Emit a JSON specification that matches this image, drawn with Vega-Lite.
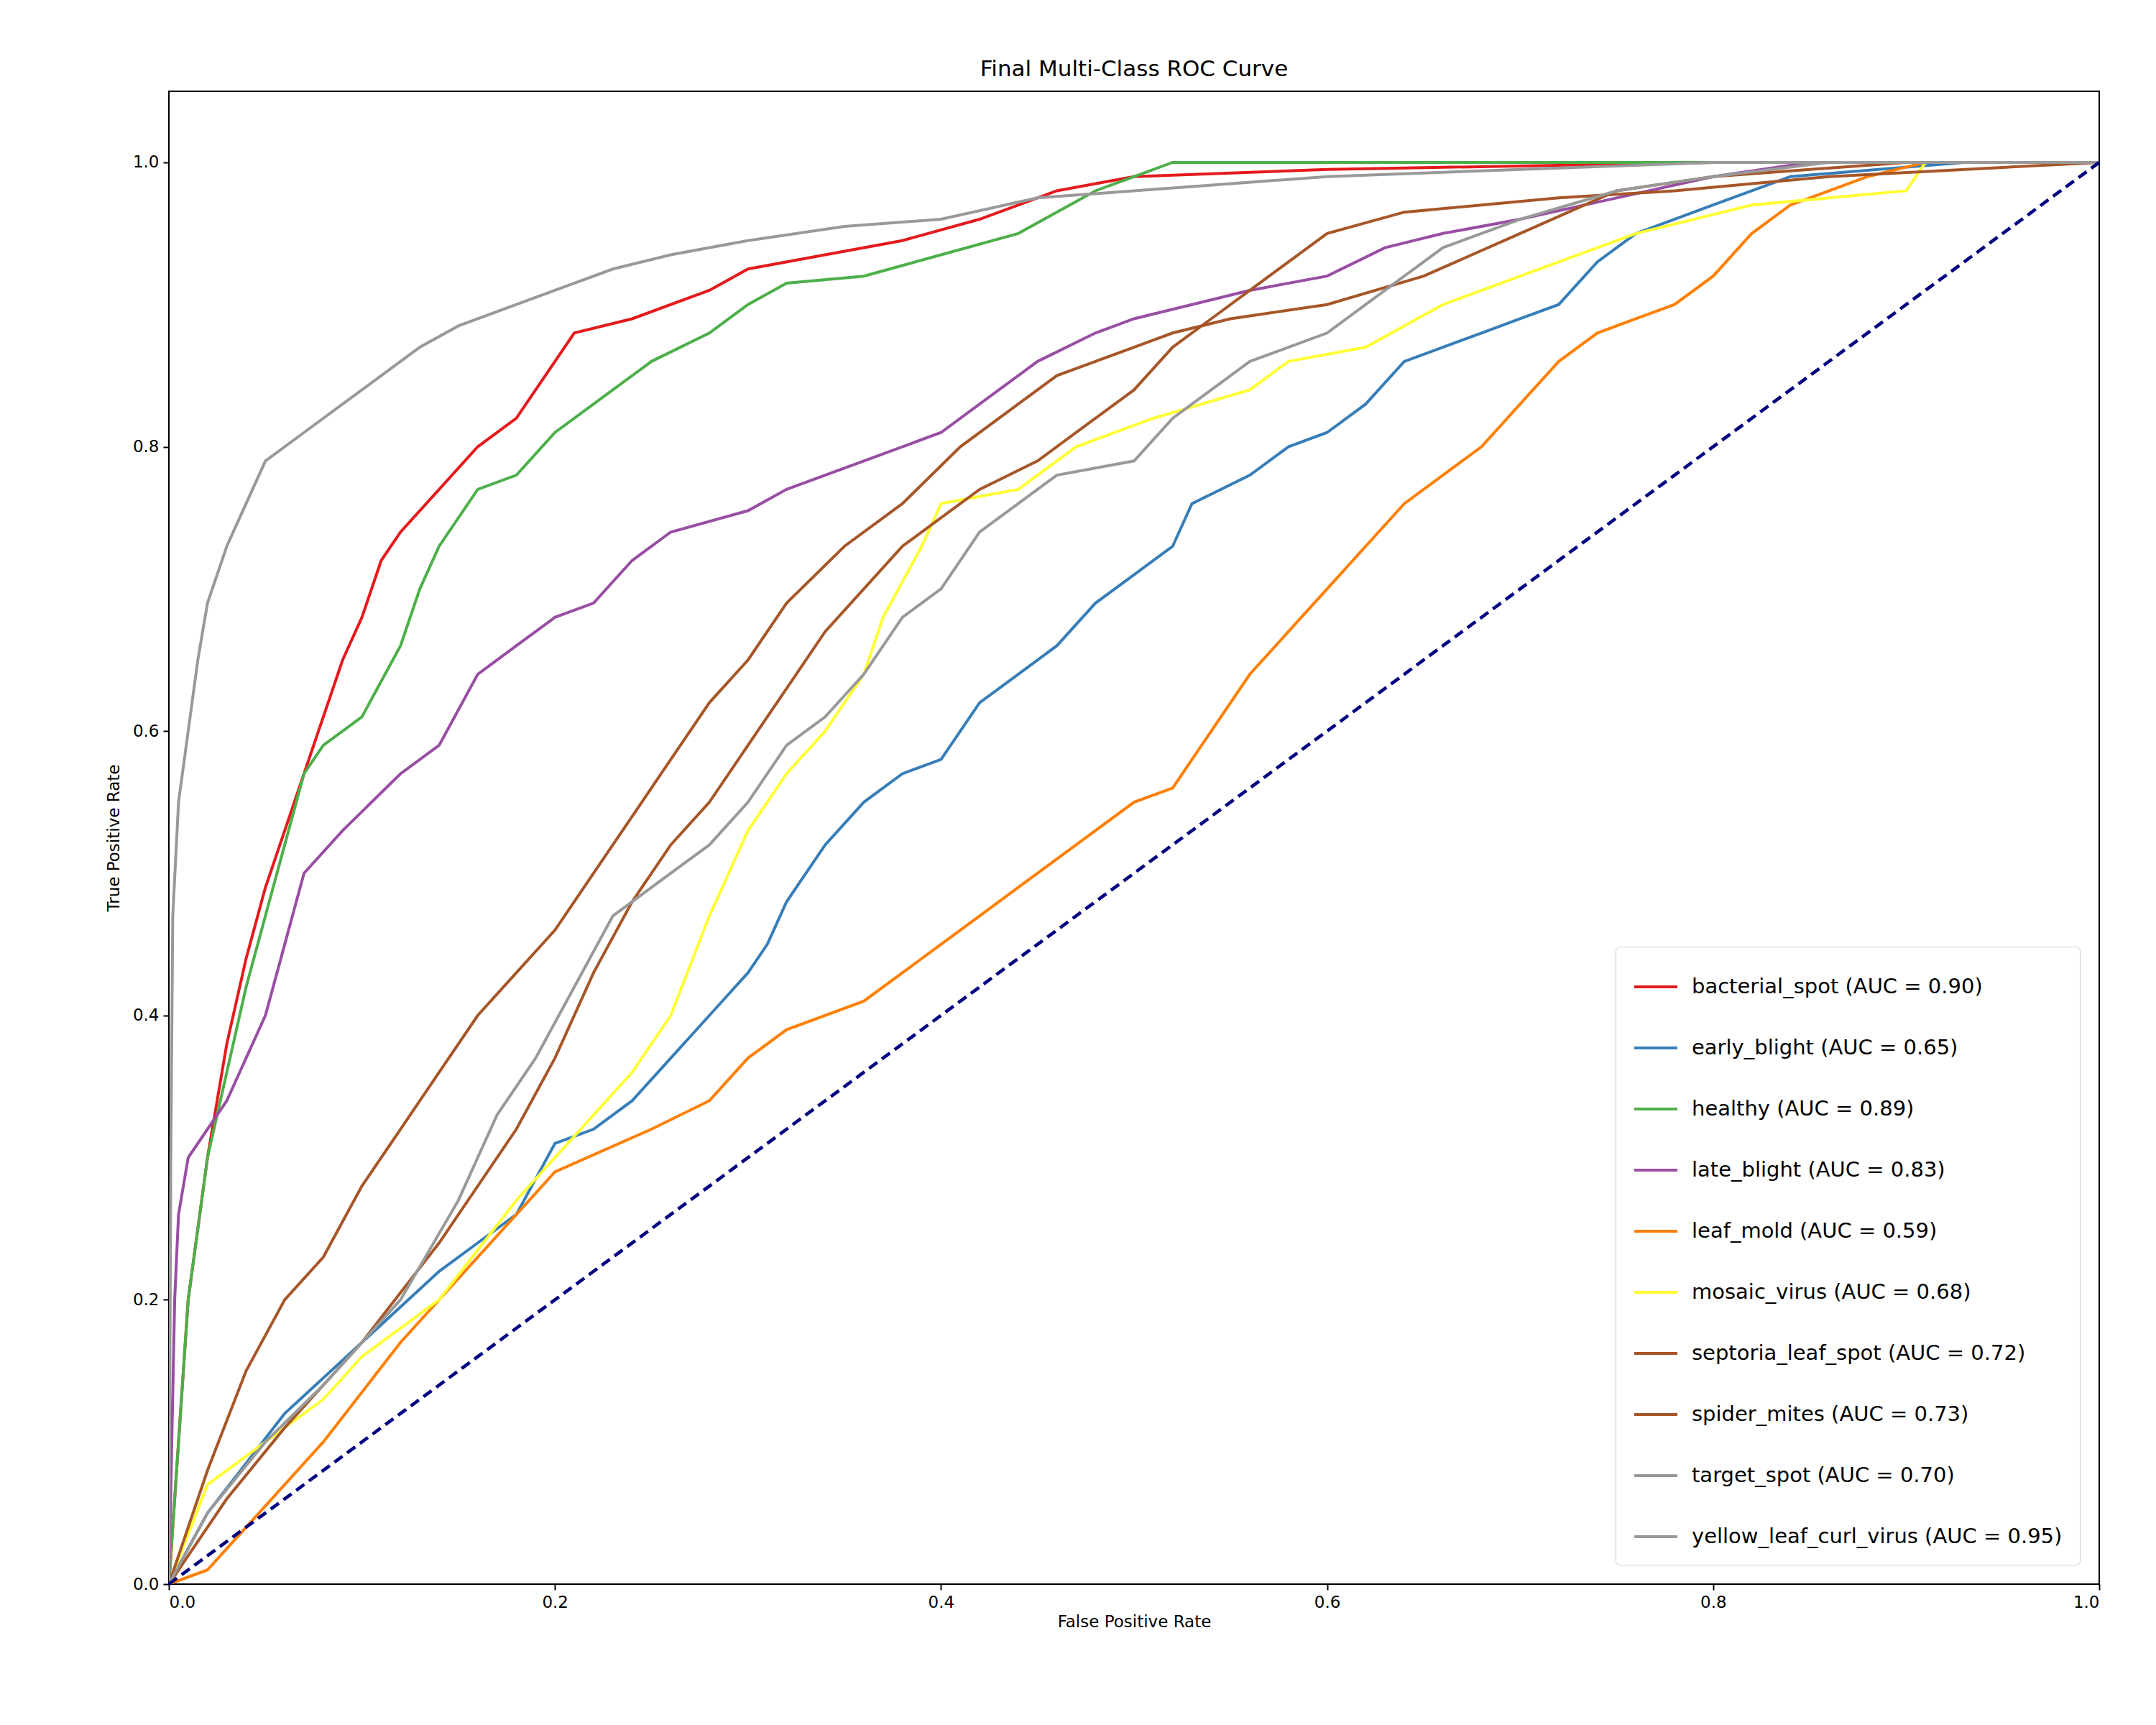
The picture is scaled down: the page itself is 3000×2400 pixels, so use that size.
{
  "$schema": "https://vega.github.io/schema/vega-lite/v6.json",
  "autosize": {"type": "none"},
  "padding": {"left": 235, "top": 127, "right": 79, "bottom": 196},
  "width": 2686,
  "height": 2077,
  "background": "white",
  "title": {"text": "Final Multi-Class ROC Curve", "fontSize": 31, "fontWeight": "normal", "font": "DejaVu Sans", "offset": 14},
  "config": {
    "font": "DejaVu Sans",
    "view": {"stroke": "black", "strokeWidth": 2},
    "axis": {"grid": false, "domain": false, "tickColor": "black", "tickWidth": 2, "tickSize": 8, "labelFontSize": 23, "titleFontSize": 23, "titleFontWeight": "normal", "labelColor": "black", "titleColor": "black", "labelPadding": 6}
  },
  "datasets": {
    "roc": [
      {"c":"bacterial_spot (AUC = 0.90)","x":0,"y":0},{"c":"bacterial_spot (AUC = 0.90)","x":0.005,"y":0.1},{"c":"bacterial_spot (AUC = 0.90)","x":0.01,"y":0.2},{"c":"bacterial_spot (AUC = 0.90)","x":0.02,"y":0.3},{"c":"bacterial_spot (AUC = 0.90)","x":0.03,"y":0.38},{"c":"bacterial_spot (AUC = 0.90)","x":0.04,"y":0.44},{"c":"bacterial_spot (AUC = 0.90)","x":0.05,"y":0.49},{"c":"bacterial_spot (AUC = 0.90)","x":0.06,"y":0.53},{"c":"bacterial_spot (AUC = 0.90)","x":0.07,"y":0.57},{"c":"bacterial_spot (AUC = 0.90)","x":0.08,"y":0.61},{"c":"bacterial_spot (AUC = 0.90)","x":0.09,"y":0.65},{"c":"bacterial_spot (AUC = 0.90)","x":0.1,"y":0.68},{"c":"bacterial_spot (AUC = 0.90)","x":0.11,"y":0.72},{"c":"bacterial_spot (AUC = 0.90)","x":0.12,"y":0.74},{"c":"bacterial_spot (AUC = 0.90)","x":0.14,"y":0.77},{"c":"bacterial_spot (AUC = 0.90)","x":0.16,"y":0.8},{"c":"bacterial_spot (AUC = 0.90)","x":0.18,"y":0.82},{"c":"bacterial_spot (AUC = 0.90)","x":0.2,"y":0.86},{"c":"bacterial_spot (AUC = 0.90)","x":0.21,"y":0.88},{"c":"bacterial_spot (AUC = 0.90)","x":0.24,"y":0.89},{"c":"bacterial_spot (AUC = 0.90)","x":0.28,"y":0.91},{"c":"bacterial_spot (AUC = 0.90)","x":0.3,"y":0.925},{"c":"bacterial_spot (AUC = 0.90)","x":0.34,"y":0.935},{"c":"bacterial_spot (AUC = 0.90)","x":0.38,"y":0.945},{"c":"bacterial_spot (AUC = 0.90)","x":0.42,"y":0.96},{"c":"bacterial_spot (AUC = 0.90)","x":0.46,"y":0.98},{"c":"bacterial_spot (AUC = 0.90)","x":0.5,"y":0.99},{"c":"bacterial_spot (AUC = 0.90)","x":0.6,"y":0.995},{"c":"bacterial_spot (AUC = 0.90)","x":0.8,"y":1.0},{"c":"bacterial_spot (AUC = 0.90)","x":1,"y":1},

      {"c":"early_blight (AUC = 0.65)","x":0,"y":0},{"c":"early_blight (AUC = 0.65)","x":0.02,"y":0.05},{"c":"early_blight (AUC = 0.65)","x":0.06,"y":0.12},{"c":"early_blight (AUC = 0.65)","x":0.1,"y":0.17},{"c":"early_blight (AUC = 0.65)","x":0.14,"y":0.22},{"c":"early_blight (AUC = 0.65)","x":0.16,"y":0.24},{"c":"early_blight (AUC = 0.65)","x":0.18,"y":0.26},{"c":"early_blight (AUC = 0.65)","x":0.2,"y":0.31},{"c":"early_blight (AUC = 0.65)","x":0.22,"y":0.32},{"c":"early_blight (AUC = 0.65)","x":0.24,"y":0.34},{"c":"early_blight (AUC = 0.65)","x":0.26,"y":0.37},{"c":"early_blight (AUC = 0.65)","x":0.28,"y":0.4},{"c":"early_blight (AUC = 0.65)","x":0.3,"y":0.43},{"c":"early_blight (AUC = 0.65)","x":0.31,"y":0.45},{"c":"early_blight (AUC = 0.65)","x":0.32,"y":0.48},{"c":"early_blight (AUC = 0.65)","x":0.34,"y":0.52},{"c":"early_blight (AUC = 0.65)","x":0.36,"y":0.55},{"c":"early_blight (AUC = 0.65)","x":0.38,"y":0.57},{"c":"early_blight (AUC = 0.65)","x":0.4,"y":0.58},{"c":"early_blight (AUC = 0.65)","x":0.42,"y":0.62},{"c":"early_blight (AUC = 0.65)","x":0.44,"y":0.64},{"c":"early_blight (AUC = 0.65)","x":0.46,"y":0.66},{"c":"early_blight (AUC = 0.65)","x":0.48,"y":0.69},{"c":"early_blight (AUC = 0.65)","x":0.5,"y":0.71},{"c":"early_blight (AUC = 0.65)","x":0.52,"y":0.73},{"c":"early_blight (AUC = 0.65)","x":0.53,"y":0.76},{"c":"early_blight (AUC = 0.65)","x":0.56,"y":0.78},{"c":"early_blight (AUC = 0.65)","x":0.58,"y":0.8},{"c":"early_blight (AUC = 0.65)","x":0.6,"y":0.81},{"c":"early_blight (AUC = 0.65)","x":0.62,"y":0.83},{"c":"early_blight (AUC = 0.65)","x":0.64,"y":0.86},{"c":"early_blight (AUC = 0.65)","x":0.66,"y":0.87},{"c":"early_blight (AUC = 0.65)","x":0.68,"y":0.88},{"c":"early_blight (AUC = 0.65)","x":0.7,"y":0.89},{"c":"early_blight (AUC = 0.65)","x":0.72,"y":0.9},{"c":"early_blight (AUC = 0.65)","x":0.74,"y":0.93},{"c":"early_blight (AUC = 0.65)","x":0.76,"y":0.95},{"c":"early_blight (AUC = 0.65)","x":0.8,"y":0.97},{"c":"early_blight (AUC = 0.65)","x":0.84,"y":0.99},{"c":"early_blight (AUC = 0.65)","x":0.93,"y":1.0},{"c":"early_blight (AUC = 0.65)","x":1,"y":1},

      {"c":"healthy (AUC = 0.89)","x":0,"y":0},{"c":"healthy (AUC = 0.89)","x":0.01,"y":0.2},{"c":"healthy (AUC = 0.89)","x":0.02,"y":0.3},{"c":"healthy (AUC = 0.89)","x":0.04,"y":0.42},{"c":"healthy (AUC = 0.89)","x":0.06,"y":0.52},{"c":"healthy (AUC = 0.89)","x":0.07,"y":0.57},{"c":"healthy (AUC = 0.89)","x":0.08,"y":0.59},{"c":"healthy (AUC = 0.89)","x":0.1,"y":0.61},{"c":"healthy (AUC = 0.89)","x":0.12,"y":0.66},{"c":"healthy (AUC = 0.89)","x":0.13,"y":0.7},{"c":"healthy (AUC = 0.89)","x":0.14,"y":0.73},{"c":"healthy (AUC = 0.89)","x":0.16,"y":0.77},{"c":"healthy (AUC = 0.89)","x":0.18,"y":0.78},{"c":"healthy (AUC = 0.89)","x":0.2,"y":0.81},{"c":"healthy (AUC = 0.89)","x":0.22,"y":0.83},{"c":"healthy (AUC = 0.89)","x":0.25,"y":0.86},{"c":"healthy (AUC = 0.89)","x":0.28,"y":0.88},{"c":"healthy (AUC = 0.89)","x":0.3,"y":0.9},{"c":"healthy (AUC = 0.89)","x":0.32,"y":0.915},{"c":"healthy (AUC = 0.89)","x":0.36,"y":0.92},{"c":"healthy (AUC = 0.89)","x":0.4,"y":0.935},{"c":"healthy (AUC = 0.89)","x":0.44,"y":0.95},{"c":"healthy (AUC = 0.89)","x":0.48,"y":0.98},{"c":"healthy (AUC = 0.89)","x":0.52,"y":1.0},{"c":"healthy (AUC = 0.89)","x":1,"y":1},

      {"c":"late_blight (AUC = 0.83)","x":0,"y":0},{"c":"late_blight (AUC = 0.83)","x":0.003,"y":0.2},{"c":"late_blight (AUC = 0.83)","x":0.005,"y":0.26},{"c":"late_blight (AUC = 0.83)","x":0.01,"y":0.3},{"c":"late_blight (AUC = 0.83)","x":0.03,"y":0.34},{"c":"late_blight (AUC = 0.83)","x":0.05,"y":0.4},{"c":"late_blight (AUC = 0.83)","x":0.06,"y":0.45},{"c":"late_blight (AUC = 0.83)","x":0.07,"y":0.5},{"c":"late_blight (AUC = 0.83)","x":0.09,"y":0.53},{"c":"late_blight (AUC = 0.83)","x":0.12,"y":0.57},{"c":"late_blight (AUC = 0.83)","x":0.14,"y":0.59},{"c":"late_blight (AUC = 0.83)","x":0.16,"y":0.64},{"c":"late_blight (AUC = 0.83)","x":0.18,"y":0.66},{"c":"late_blight (AUC = 0.83)","x":0.2,"y":0.68},{"c":"late_blight (AUC = 0.83)","x":0.22,"y":0.69},{"c":"late_blight (AUC = 0.83)","x":0.24,"y":0.72},{"c":"late_blight (AUC = 0.83)","x":0.26,"y":0.74},{"c":"late_blight (AUC = 0.83)","x":0.3,"y":0.755},{"c":"late_blight (AUC = 0.83)","x":0.32,"y":0.77},{"c":"late_blight (AUC = 0.83)","x":0.36,"y":0.79},{"c":"late_blight (AUC = 0.83)","x":0.4,"y":0.81},{"c":"late_blight (AUC = 0.83)","x":0.42,"y":0.83},{"c":"late_blight (AUC = 0.83)","x":0.45,"y":0.86},{"c":"late_blight (AUC = 0.83)","x":0.48,"y":0.88},{"c":"late_blight (AUC = 0.83)","x":0.5,"y":0.89},{"c":"late_blight (AUC = 0.83)","x":0.53,"y":0.9},{"c":"late_blight (AUC = 0.83)","x":0.56,"y":0.91},{"c":"late_blight (AUC = 0.83)","x":0.6,"y":0.92},{"c":"late_blight (AUC = 0.83)","x":0.63,"y":0.94},{"c":"late_blight (AUC = 0.83)","x":0.66,"y":0.95},{"c":"late_blight (AUC = 0.83)","x":0.7,"y":0.96},{"c":"late_blight (AUC = 0.83)","x":0.75,"y":0.975},{"c":"late_blight (AUC = 0.83)","x":0.8,"y":0.99},{"c":"late_blight (AUC = 0.83)","x":0.85,"y":1.0},{"c":"late_blight (AUC = 0.83)","x":1,"y":1},

      {"c":"leaf_mold (AUC = 0.59)","x":0,"y":0},{"c":"leaf_mold (AUC = 0.59)","x":0.02,"y":0.01},{"c":"leaf_mold (AUC = 0.59)","x":0.04,"y":0.04},{"c":"leaf_mold (AUC = 0.59)","x":0.08,"y":0.1},{"c":"leaf_mold (AUC = 0.59)","x":0.12,"y":0.17},{"c":"leaf_mold (AUC = 0.59)","x":0.16,"y":0.23},{"c":"leaf_mold (AUC = 0.59)","x":0.2,"y":0.29},{"c":"leaf_mold (AUC = 0.59)","x":0.25,"y":0.32},{"c":"leaf_mold (AUC = 0.59)","x":0.28,"y":0.34},{"c":"leaf_mold (AUC = 0.59)","x":0.3,"y":0.37},{"c":"leaf_mold (AUC = 0.59)","x":0.32,"y":0.39},{"c":"leaf_mold (AUC = 0.59)","x":0.36,"y":0.41},{"c":"leaf_mold (AUC = 0.59)","x":0.38,"y":0.43},{"c":"leaf_mold (AUC = 0.59)","x":0.4,"y":0.45},{"c":"leaf_mold (AUC = 0.59)","x":0.42,"y":0.47},{"c":"leaf_mold (AUC = 0.59)","x":0.44,"y":0.49},{"c":"leaf_mold (AUC = 0.59)","x":0.46,"y":0.51},{"c":"leaf_mold (AUC = 0.59)","x":0.48,"y":0.53},{"c":"leaf_mold (AUC = 0.59)","x":0.5,"y":0.55},{"c":"leaf_mold (AUC = 0.59)","x":0.52,"y":0.56},{"c":"leaf_mold (AUC = 0.59)","x":0.54,"y":0.6},{"c":"leaf_mold (AUC = 0.59)","x":0.56,"y":0.64},{"c":"leaf_mold (AUC = 0.59)","x":0.58,"y":0.67},{"c":"leaf_mold (AUC = 0.59)","x":0.6,"y":0.7},{"c":"leaf_mold (AUC = 0.59)","x":0.62,"y":0.73},{"c":"leaf_mold (AUC = 0.59)","x":0.64,"y":0.76},{"c":"leaf_mold (AUC = 0.59)","x":0.66,"y":0.78},{"c":"leaf_mold (AUC = 0.59)","x":0.68,"y":0.8},{"c":"leaf_mold (AUC = 0.59)","x":0.7,"y":0.83},{"c":"leaf_mold (AUC = 0.59)","x":0.72,"y":0.86},{"c":"leaf_mold (AUC = 0.59)","x":0.74,"y":0.88},{"c":"leaf_mold (AUC = 0.59)","x":0.76,"y":0.89},{"c":"leaf_mold (AUC = 0.59)","x":0.78,"y":0.9},{"c":"leaf_mold (AUC = 0.59)","x":0.8,"y":0.92},{"c":"leaf_mold (AUC = 0.59)","x":0.82,"y":0.95},{"c":"leaf_mold (AUC = 0.59)","x":0.84,"y":0.97},{"c":"leaf_mold (AUC = 0.59)","x":0.88,"y":0.99},{"c":"leaf_mold (AUC = 0.59)","x":0.91,"y":1.0},{"c":"leaf_mold (AUC = 0.59)","x":1,"y":1},

      {"c":"mosaic_virus (AUC = 0.68)","x":0,"y":0},{"c":"mosaic_virus (AUC = 0.68)","x":0.02,"y":0.07},{"c":"mosaic_virus (AUC = 0.68)","x":0.05,"y":0.1},{"c":"mosaic_virus (AUC = 0.68)","x":0.08,"y":0.13},{"c":"mosaic_virus (AUC = 0.68)","x":0.1,"y":0.16},{"c":"mosaic_virus (AUC = 0.68)","x":0.14,"y":0.2},{"c":"mosaic_virus (AUC = 0.68)","x":0.18,"y":0.27},{"c":"mosaic_virus (AUC = 0.68)","x":0.2,"y":0.3},{"c":"mosaic_virus (AUC = 0.68)","x":0.22,"y":0.33},{"c":"mosaic_virus (AUC = 0.68)","x":0.24,"y":0.36},{"c":"mosaic_virus (AUC = 0.68)","x":0.26,"y":0.4},{"c":"mosaic_virus (AUC = 0.68)","x":0.28,"y":0.47},{"c":"mosaic_virus (AUC = 0.68)","x":0.3,"y":0.53},{"c":"mosaic_virus (AUC = 0.68)","x":0.32,"y":0.57},{"c":"mosaic_virus (AUC = 0.68)","x":0.34,"y":0.6},{"c":"mosaic_virus (AUC = 0.68)","x":0.36,"y":0.64},{"c":"mosaic_virus (AUC = 0.68)","x":0.37,"y":0.68},{"c":"mosaic_virus (AUC = 0.68)","x":0.39,"y":0.73},{"c":"mosaic_virus (AUC = 0.68)","x":0.4,"y":0.76},{"c":"mosaic_virus (AUC = 0.68)","x":0.44,"y":0.77},{"c":"mosaic_virus (AUC = 0.68)","x":0.47,"y":0.8},{"c":"mosaic_virus (AUC = 0.68)","x":0.51,"y":0.82},{"c":"mosaic_virus (AUC = 0.68)","x":0.56,"y":0.84},{"c":"mosaic_virus (AUC = 0.68)","x":0.58,"y":0.86},{"c":"mosaic_virus (AUC = 0.68)","x":0.62,"y":0.87},{"c":"mosaic_virus (AUC = 0.68)","x":0.66,"y":0.9},{"c":"mosaic_virus (AUC = 0.68)","x":0.72,"y":0.93},{"c":"mosaic_virus (AUC = 0.68)","x":0.76,"y":0.95},{"c":"mosaic_virus (AUC = 0.68)","x":0.82,"y":0.97},{"c":"mosaic_virus (AUC = 0.68)","x":0.9,"y":0.98},{"c":"mosaic_virus (AUC = 0.68)","x":0.91,"y":1.0},{"c":"mosaic_virus (AUC = 0.68)","x":1,"y":1},

      {"c":"septoria_leaf_spot (AUC = 0.72)","x":0,"y":0},{"c":"septoria_leaf_spot (AUC = 0.72)","x":0.02,"y":0.08},{"c":"septoria_leaf_spot (AUC = 0.72)","x":0.04,"y":0.15},{"c":"septoria_leaf_spot (AUC = 0.72)","x":0.06,"y":0.2},{"c":"septoria_leaf_spot (AUC = 0.72)","x":0.08,"y":0.23},{"c":"septoria_leaf_spot (AUC = 0.72)","x":0.1,"y":0.28},{"c":"septoria_leaf_spot (AUC = 0.72)","x":0.12,"y":0.32},{"c":"septoria_leaf_spot (AUC = 0.72)","x":0.14,"y":0.36},{"c":"septoria_leaf_spot (AUC = 0.72)","x":0.16,"y":0.4},{"c":"septoria_leaf_spot (AUC = 0.72)","x":0.18,"y":0.43},{"c":"septoria_leaf_spot (AUC = 0.72)","x":0.2,"y":0.46},{"c":"septoria_leaf_spot (AUC = 0.72)","x":0.22,"y":0.5},{"c":"septoria_leaf_spot (AUC = 0.72)","x":0.24,"y":0.54},{"c":"septoria_leaf_spot (AUC = 0.72)","x":0.26,"y":0.58},{"c":"septoria_leaf_spot (AUC = 0.72)","x":0.28,"y":0.62},{"c":"septoria_leaf_spot (AUC = 0.72)","x":0.3,"y":0.65},{"c":"septoria_leaf_spot (AUC = 0.72)","x":0.32,"y":0.69},{"c":"septoria_leaf_spot (AUC = 0.72)","x":0.35,"y":0.73},{"c":"septoria_leaf_spot (AUC = 0.72)","x":0.38,"y":0.76},{"c":"septoria_leaf_spot (AUC = 0.72)","x":0.41,"y":0.8},{"c":"septoria_leaf_spot (AUC = 0.72)","x":0.44,"y":0.83},{"c":"septoria_leaf_spot (AUC = 0.72)","x":0.46,"y":0.85},{"c":"septoria_leaf_spot (AUC = 0.72)","x":0.48,"y":0.86},{"c":"septoria_leaf_spot (AUC = 0.72)","x":0.5,"y":0.87},{"c":"septoria_leaf_spot (AUC = 0.72)","x":0.52,"y":0.88},{"c":"septoria_leaf_spot (AUC = 0.72)","x":0.55,"y":0.89},{"c":"septoria_leaf_spot (AUC = 0.72)","x":0.6,"y":0.9},{"c":"septoria_leaf_spot (AUC = 0.72)","x":0.65,"y":0.92},{"c":"septoria_leaf_spot (AUC = 0.72)","x":0.7,"y":0.95},{"c":"septoria_leaf_spot (AUC = 0.72)","x":0.75,"y":0.98},{"c":"septoria_leaf_spot (AUC = 0.72)","x":0.8,"y":0.99},{"c":"septoria_leaf_spot (AUC = 0.72)","x":0.9,"y":1.0},{"c":"septoria_leaf_spot (AUC = 0.72)","x":1,"y":1},

      {"c":"spider_mites (AUC = 0.73)","x":0,"y":0},{"c":"spider_mites (AUC = 0.73)","x":0.03,"y":0.06},{"c":"spider_mites (AUC = 0.73)","x":0.06,"y":0.11},{"c":"spider_mites (AUC = 0.73)","x":0.1,"y":0.17},{"c":"spider_mites (AUC = 0.73)","x":0.14,"y":0.24},{"c":"spider_mites (AUC = 0.73)","x":0.18,"y":0.32},{"c":"spider_mites (AUC = 0.73)","x":0.2,"y":0.37},{"c":"spider_mites (AUC = 0.73)","x":0.22,"y":0.43},{"c":"spider_mites (AUC = 0.73)","x":0.24,"y":0.48},{"c":"spider_mites (AUC = 0.73)","x":0.26,"y":0.52},{"c":"spider_mites (AUC = 0.73)","x":0.28,"y":0.55},{"c":"spider_mites (AUC = 0.73)","x":0.3,"y":0.59},{"c":"spider_mites (AUC = 0.73)","x":0.32,"y":0.63},{"c":"spider_mites (AUC = 0.73)","x":0.34,"y":0.67},{"c":"spider_mites (AUC = 0.73)","x":0.36,"y":0.7},{"c":"spider_mites (AUC = 0.73)","x":0.38,"y":0.73},{"c":"spider_mites (AUC = 0.73)","x":0.4,"y":0.75},{"c":"spider_mites (AUC = 0.73)","x":0.42,"y":0.77},{"c":"spider_mites (AUC = 0.73)","x":0.45,"y":0.79},{"c":"spider_mites (AUC = 0.73)","x":0.48,"y":0.82},{"c":"spider_mites (AUC = 0.73)","x":0.5,"y":0.84},{"c":"spider_mites (AUC = 0.73)","x":0.52,"y":0.87},{"c":"spider_mites (AUC = 0.73)","x":0.54,"y":0.89},{"c":"spider_mites (AUC = 0.73)","x":0.56,"y":0.91},{"c":"spider_mites (AUC = 0.73)","x":0.58,"y":0.93},{"c":"spider_mites (AUC = 0.73)","x":0.6,"y":0.95},{"c":"spider_mites (AUC = 0.73)","x":0.64,"y":0.965},{"c":"spider_mites (AUC = 0.73)","x":0.68,"y":0.97},{"c":"spider_mites (AUC = 0.73)","x":0.72,"y":0.975},{"c":"spider_mites (AUC = 0.73)","x":0.78,"y":0.98},{"c":"spider_mites (AUC = 0.73)","x":0.86,"y":0.99},{"c":"spider_mites (AUC = 0.73)","x":1,"y":1},

      {"c":"target_spot (AUC = 0.70)","x":0,"y":0},{"c":"target_spot (AUC = 0.70)","x":0.02,"y":0.05},{"c":"target_spot (AUC = 0.70)","x":0.05,"y":0.1},{"c":"target_spot (AUC = 0.70)","x":0.08,"y":0.14},{"c":"target_spot (AUC = 0.70)","x":0.12,"y":0.2},{"c":"target_spot (AUC = 0.70)","x":0.15,"y":0.27},{"c":"target_spot (AUC = 0.70)","x":0.17,"y":0.33},{"c":"target_spot (AUC = 0.70)","x":0.19,"y":0.37},{"c":"target_spot (AUC = 0.70)","x":0.21,"y":0.42},{"c":"target_spot (AUC = 0.70)","x":0.23,"y":0.47},{"c":"target_spot (AUC = 0.70)","x":0.26,"y":0.5},{"c":"target_spot (AUC = 0.70)","x":0.28,"y":0.52},{"c":"target_spot (AUC = 0.70)","x":0.3,"y":0.55},{"c":"target_spot (AUC = 0.70)","x":0.32,"y":0.59},{"c":"target_spot (AUC = 0.70)","x":0.34,"y":0.61},{"c":"target_spot (AUC = 0.70)","x":0.36,"y":0.64},{"c":"target_spot (AUC = 0.70)","x":0.38,"y":0.68},{"c":"target_spot (AUC = 0.70)","x":0.4,"y":0.7},{"c":"target_spot (AUC = 0.70)","x":0.42,"y":0.74},{"c":"target_spot (AUC = 0.70)","x":0.44,"y":0.76},{"c":"target_spot (AUC = 0.70)","x":0.46,"y":0.78},{"c":"target_spot (AUC = 0.70)","x":0.5,"y":0.79},{"c":"target_spot (AUC = 0.70)","x":0.52,"y":0.82},{"c":"target_spot (AUC = 0.70)","x":0.54,"y":0.84},{"c":"target_spot (AUC = 0.70)","x":0.56,"y":0.86},{"c":"target_spot (AUC = 0.70)","x":0.58,"y":0.87},{"c":"target_spot (AUC = 0.70)","x":0.6,"y":0.88},{"c":"target_spot (AUC = 0.70)","x":0.62,"y":0.9},{"c":"target_spot (AUC = 0.70)","x":0.64,"y":0.92},{"c":"target_spot (AUC = 0.70)","x":0.66,"y":0.94},{"c":"target_spot (AUC = 0.70)","x":0.7,"y":0.96},{"c":"target_spot (AUC = 0.70)","x":0.75,"y":0.98},{"c":"target_spot (AUC = 0.70)","x":0.8,"y":0.99},{"c":"target_spot (AUC = 0.70)","x":0.86,"y":1.0},{"c":"target_spot (AUC = 0.70)","x":1,"y":1},

      {"c":"yellow_leaf_curl_virus (AUC = 0.95)","x":0,"y":0},{"c":"yellow_leaf_curl_virus (AUC = 0.95)","x":0.001,"y":0.3},{"c":"yellow_leaf_curl_virus (AUC = 0.95)","x":0.002,"y":0.47},{"c":"yellow_leaf_curl_virus (AUC = 0.95)","x":0.005,"y":0.55},{"c":"yellow_leaf_curl_virus (AUC = 0.95)","x":0.01,"y":0.6},{"c":"yellow_leaf_curl_virus (AUC = 0.95)","x":0.015,"y":0.65},{"c":"yellow_leaf_curl_virus (AUC = 0.95)","x":0.02,"y":0.69},{"c":"yellow_leaf_curl_virus (AUC = 0.95)","x":0.03,"y":0.73},{"c":"yellow_leaf_curl_virus (AUC = 0.95)","x":0.04,"y":0.76},{"c":"yellow_leaf_curl_virus (AUC = 0.95)","x":0.05,"y":0.79},{"c":"yellow_leaf_curl_virus (AUC = 0.95)","x":0.07,"y":0.81},{"c":"yellow_leaf_curl_virus (AUC = 0.95)","x":0.09,"y":0.83},{"c":"yellow_leaf_curl_virus (AUC = 0.95)","x":0.11,"y":0.85},{"c":"yellow_leaf_curl_virus (AUC = 0.95)","x":0.13,"y":0.87},{"c":"yellow_leaf_curl_virus (AUC = 0.95)","x":0.15,"y":0.885},{"c":"yellow_leaf_curl_virus (AUC = 0.95)","x":0.18,"y":0.9},{"c":"yellow_leaf_curl_virus (AUC = 0.95)","x":0.2,"y":0.91},{"c":"yellow_leaf_curl_virus (AUC = 0.95)","x":0.23,"y":0.925},{"c":"yellow_leaf_curl_virus (AUC = 0.95)","x":0.26,"y":0.935},{"c":"yellow_leaf_curl_virus (AUC = 0.95)","x":0.3,"y":0.945},{"c":"yellow_leaf_curl_virus (AUC = 0.95)","x":0.35,"y":0.955},{"c":"yellow_leaf_curl_virus (AUC = 0.95)","x":0.4,"y":0.96},{"c":"yellow_leaf_curl_virus (AUC = 0.95)","x":0.45,"y":0.975},{"c":"yellow_leaf_curl_virus (AUC = 0.95)","x":0.5,"y":0.98},{"c":"yellow_leaf_curl_virus (AUC = 0.95)","x":0.6,"y":0.99},{"c":"yellow_leaf_curl_virus (AUC = 0.95)","x":0.7,"y":0.995},{"c":"yellow_leaf_curl_virus (AUC = 0.95)","x":0.8,"y":1.0},{"c":"yellow_leaf_curl_virus (AUC = 0.95)","x":1,"y":1}
    ],
    "diag": [{"x": 0, "y": 0}, {"x": 1, "y": 1}]
  },
  "layer": [
    {
      "data": {"name": "roc"},
      "mark": {"type": "line", "strokeWidth": 4, "clip": true},
      "encoding": {
        "x": {"field": "x", "type": "quantitative", "scale": {"domain": [0, 1], "nice": false, "zero": false}, "axis": {"title": "False Positive Rate", "values": [0, 0.2, 0.4, 0.6, 0.8, 1.0], "format": ".1f"}},
        "y": {"field": "y", "type": "quantitative", "scale": {"domain": [0, 1.05], "nice": false, "zero": false}, "axis": {"title": "True Positive Rate", "values": [0, 0.2, 0.4, 0.6, 0.8, 1.0], "format": ".1f", "titlePadding": 14}},
        "color": {
          "field": "c",
          "type": "nominal",
          "scale": {
            "domain": ["bacterial_spot (AUC = 0.90)", "early_blight (AUC = 0.65)", "healthy (AUC = 0.89)", "late_blight (AUC = 0.83)", "leaf_mold (AUC = 0.59)", "mosaic_virus (AUC = 0.68)", "septoria_leaf_spot (AUC = 0.72)", "spider_mites (AUC = 0.73)", "target_spot (AUC = 0.70)", "yellow_leaf_curl_virus (AUC = 0.95)"],
            "range": ["#e41a1c", "#377eb8", "#4daf4a", "#984ea3", "#ff7f00", "#ffff33", "#a65628", "#a65628", "#999999", "#999999"]
          },
          "legend": {
            "title": null,
            "orient": "bottom-right",
            "offset": 27,
            "symbolType": "stroke",
            "symbolStrokeWidth": 4,
            "symbolSize": 3600,
            "labelFontSize": 29,
            "labelLimit": 1000,
            "rowPadding": 38,
            "fillColor": "white",
            "strokeColor": "#cccccc",
            "cornerRadius": 6,
            "padding": 24,
            "labelOffset": 18
          }
        }
      }
    },
    {
      "data": {"name": "diag"},
      "mark": {"type": "line", "color": "#000080", "strokeWidth": 4.6, "strokeDash": [14, 8]},
      "encoding": {
        "x": {"field": "x", "type": "quantitative"},
        "y": {"field": "y", "type": "quantitative"}
      }
    }
  ]
}
